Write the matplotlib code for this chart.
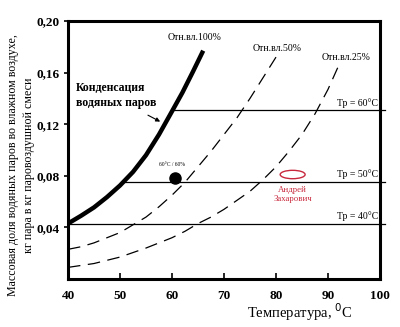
import numpy as np
import matplotlib.pyplot as plt
from matplotlib.patches import Ellipse

plt.rcParams['font.family'] = ['Liberation Serif', 'DejaVu Serif']

# saturation curve (rel. humidity 100 %)
t_sat = [40, 42.5, 45, 47.5, 50, 52.5, 55, 57.5, 60, 62, 64, 66]
v_sat = [0.043, 0.049, 0.0555, 0.0635, 0.0725, 0.083, 0.096, 0.112, 0.130, 0.1445, 0.1605, 0.177]

# rel. humidity 50 %
t_50 = [40, 42.5, 45, 47.5, 50, 52.5, 55, 57.5, 60, 62.5, 65, 67.5, 70, 72.5, 75, 77.5, 80]
v_50 = [0.023, 0.025, 0.028, 0.032, 0.036, 0.042, 0.048, 0.056, 0.065, 0.075, 0.087,
        0.099, 0.112, 0.125, 0.140, 0.156, 0.172]

# rel. humidity 25 %
t_25 = [40, 45, 50, 55, 60, 62.5, 65, 67.5, 70, 72.5, 75, 77.5, 80, 82.5, 85, 87.5, 90, 92]
v_25 = [0.009, 0.012, 0.017, 0.024, 0.032, 0.037, 0.043, 0.048, 0.054, 0.061, 0.068,
        0.077, 0.087, 0.099, 0.112, 0.128, 0.147, 0.165]

# dew point lines: label, value, start temperature
dew_labels = ['Тр = 60°С', 'Тр = 50°С', 'Тр = 40°С']
dew_values = [0.131, 0.0755, 0.043]
dew_start = [60.1, 50.6, 40]

point_t, point_v = 60.6, 0.078

xticks = [40, 50, 60, 70, 80, 90, 100]
yticks = [0.04, 0.08, 0.12, 0.16, 0.20]
ytick_labels = ['0,04', '0,08', '0,12', '0,16', '0,20']

fig = plt.figure(figsize=(4, 3.27), dpi=100)
ax = fig.add_axes([68/400, 1-279/327, 312/400, 258/327])

ax.plot(t_sat, v_sat, color='black', lw=3.2, solid_capstyle='butt')
ax.plot(t_50, v_50, color='black', lw=0.9, dashes=(10, 6))
ax.plot(t_25, v_25, color='black', lw=0.9, dashes=(10, 6))
for v, t0 in zip(dew_values, dew_start):
    ax.plot([t0, 101], [v, v], color='black', lw=0.9, clip_on=False)

ax.plot(point_t, point_v, 'o', color='black', ms=8)
ax.text(59.9, 0.0888, '60°C / 60%', fontsize=4, ha='center', va='center')

ax.text(64.3, 0.187, 'Отн.вл.100%', fontsize=7, ha='center', va='center')
ax.text(80.3, 0.179, 'Отн.вл.50%', fontsize=7, ha='center', va='center')
ax.text(93.5, 0.172, 'Отн.вл.25%', fontsize=7, ha='center', va='center')
for lab, v in zip(dew_labels, dew_values):
    ax.text(99.6, v + 0.0055, lab, fontsize=7, ha='right', va='center')

ax.text(41.6, 0.1425, 'Конденсация\nводяных паров', fontsize=8.5,
        fontweight='bold', linespacing=1.3, va='center')
ax.annotate('', xy=(58.2, 0.121), xytext=(54.9, 0.128),
            arrowprops=dict(arrowstyle='-|>', color='black', lw=0.8,
                            mutation_scale=6))

ax.add_patch(Ellipse((83.2, 0.081), 4.8, 0.0065, fill=False,
                     edgecolor='#c8283c', lw=1.0))
ax.text(83.2, 0.0655, 'Андрей\nЗахарович', fontsize=6.3, color='#c8283c',
        ha='center', va='center', linespacing=1.1)

ax.set_xlim(40, 100)
ax.set_ylim(0, 0.20)
ax.set_xticks(xticks)
ax.set_xticklabels([str(x) for x in xticks], fontsize=9.5, fontweight='bold')
ax.set_yticks(yticks)
ax.set_yticklabels(ytick_labels, fontsize=9.5, fontweight='bold')
ax.tick_params(axis='x', direction='in', length=4, width=1.2, pad=8)
ax.tick_params(axis='y', direction='out', length=3, width=1.2, pad=3)
for s in ax.spines.values():
    s.set_linewidth(2.2)

fig.text(300/400, 1-312/327, 'Температура, $^0$С', fontsize=10.5,
         ha='center', va='center')
fig.text(21/400, 1-165/327,
         'Массовая доля водяных паров во влажном воздухе,\nкг пара в кг паровоздушной смеси',
         rotation=90, fontsize=8.6, ha='center', va='center', linespacing=1.55)

fig.savefig('out.png', dpi=100)
